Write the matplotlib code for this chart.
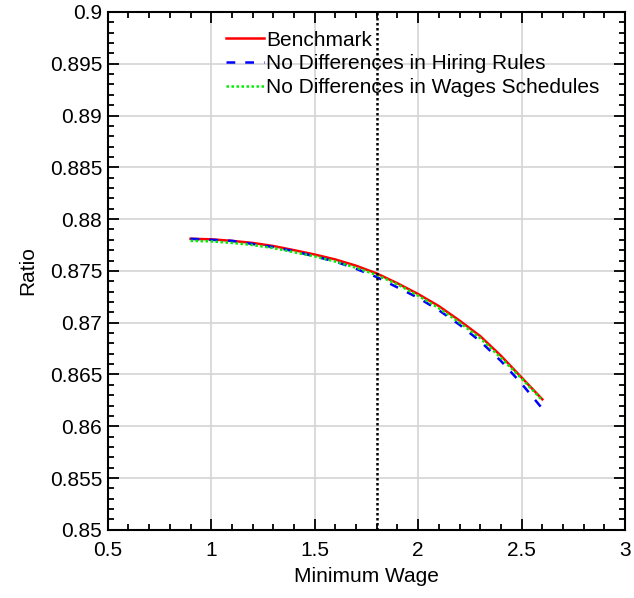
import matplotlib
matplotlib.use("Agg")
import matplotlib.pyplot as plt
from matplotlib.ticker import MultipleLocator

plt.rcParams['font.family'] = ['Liberation Sans', 'DejaVu Sans']

min_wage = [0.9, 1.0, 1.1, 1.2, 1.3, 1.4, 1.5, 1.6, 1.7, 1.8, 1.9, 2.0, 2.1, 2.2, 2.3, 2.4, 2.5, 2.6]
benchmark = [0.8781, 0.87805, 0.8779, 0.8777, 0.8774, 0.8770, 0.87658, 0.8761, 0.8755, 0.87475,
             0.8738, 0.87276, 0.8716, 0.8702, 0.8687, 0.8668, 0.8647, 0.8626]
no_diff_hiring = [0.8781, 0.8780, 0.8779, 0.8776, 0.8773, 0.8769, 0.8764, 0.8759, 0.8752, 0.8744,
                  0.8734, 0.8724, 0.8712, 0.8698, 0.8682, 0.8663, 0.8641, 0.8617]
no_diff_wages = [0.8779, 0.87785, 0.8777, 0.8775, 0.8772, 0.8768, 0.8764, 0.8759, 0.8753, 0.8746,
                 0.8737, 0.8726, 0.8714, 0.8700, 0.8685, 0.8666, 0.8646, 0.8625]
labels = ["Benchmark", "No Differences in Hiring Rules", "No Differences in Wages Schedules"]
vline_x = 1.8

fig = plt.figure(figsize=(6.34, 5.98), dpi=100)
ax = fig.add_axes([0.17, 0.114, 0.816, 0.866])

ax.plot(min_wage, benchmark, color='red', lw=1.8, ls='-', label=labels[0])
ax.plot(min_wage, no_diff_hiring, color='blue', lw=1.8, ls=(0, (3.5, 4)), label=labels[1])
ax.plot(min_wage, no_diff_wages, color='#00ee00', lw=1.8, ls=(0, (1, 1)), label=labels[2])
ax.axvline(vline_x, color='black', lw=1.8, ls=(0, (1, 1)))

ax.set_xlim(0.5, 3)
ax.set_ylim(0.85, 0.9)
ax.xaxis.set_major_locator(MultipleLocator(0.5))
ax.xaxis.set_minor_locator(MultipleLocator(0.1))
ax.yaxis.set_major_locator(MultipleLocator(0.005))
ax.yaxis.set_minor_locator(MultipleLocator(0.001))
ax.xaxis.set_major_formatter(plt.FuncFormatter(lambda v, p: f"{v:g}"))
ax.yaxis.set_major_formatter(plt.FuncFormatter(lambda v, p: f"{round(v, 3):g}"))
ax.grid(True, which='major', color='#d4d4d4', lw=1.2)
ax.set_axisbelow(True)
ax.tick_params(which='both', direction='in', top=True, right=True, labelsize=15, width=1.3)
ax.tick_params(which='major', length=8, pad=4)
ax.tick_params(axis='x', which='major', pad=8)
ax.tick_params(which='minor', length=4.5)
for s in ax.spines.values():
    s.set_linewidth(1.5)

ax.set_xlabel("Minimum Wage", fontsize=15, labelpad=5)
ax.set_ylabel("Ratio", fontsize=15, labelpad=9)

leg = ax.legend(loc='upper left', bbox_to_anchor=(0.213, 0.98), frameon=False, fontsize=15,
                handlelength=1.8, handletextpad=0.12, labelspacing=0.22, borderaxespad=0)

fig.savefig("out.png", dpi=100)
